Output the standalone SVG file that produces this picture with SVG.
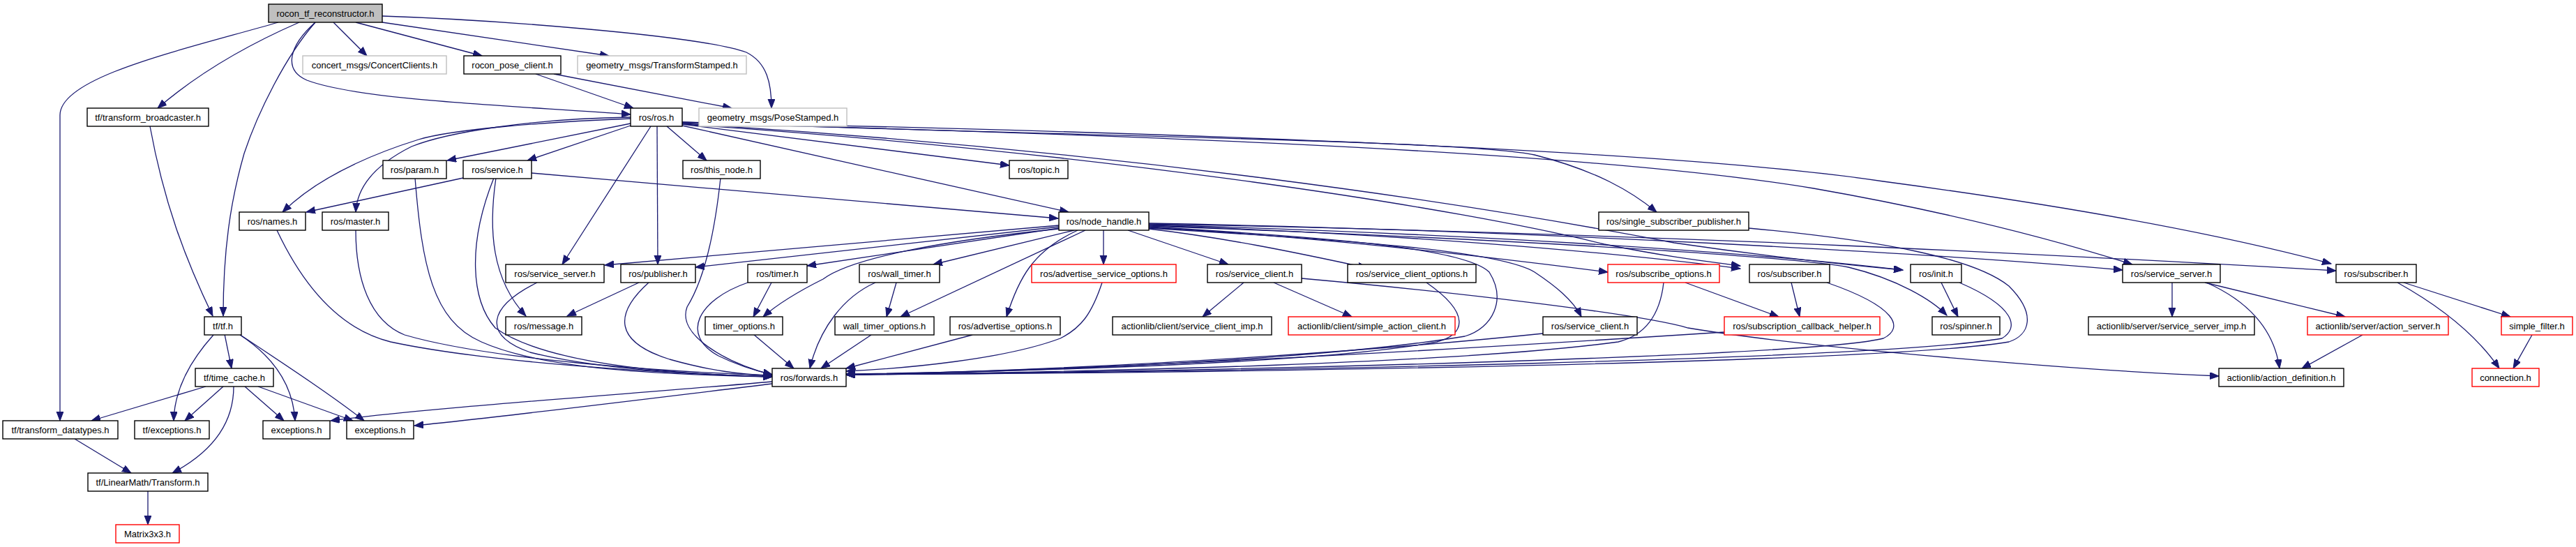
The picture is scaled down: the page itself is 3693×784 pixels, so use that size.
<svg xmlns="http://www.w3.org/2000/svg" width="3693" height="784" viewBox="0 0 3693 784">
<style>
.n rect{fill:#ffffff;stroke:#000000;stroke-width:1.4}
.n.g rect{stroke:#bfbfbf}
.n.r rect{stroke:#ff0000}
.n.m rect{fill:#bfbfbf}
.n text{font-family:"Liberation Sans",Arial,sans-serif;font-size:13px;text-anchor:middle;fill:#000000}
.e path{fill:none;stroke:#191970;stroke-width:1.3;marker-end:url(#a)}
</style>
<defs>
<marker id="a" markerUnits="userSpaceOnUse" markerWidth="14" markerHeight="11" refX="13" refY="5" orient="auto">
<path d="M0,0 L13,5 L0,10 z" fill="#191970" stroke="#191970" stroke-width="1"/>
</marker>
</defs>
<rect width="3693" height="784" fill="#ffffff"/>
<g id="edges" class="e">
<path d="M399,32 C260,72 86,110 86,165 L86,603"/>
<path d="M429,32 C360,62 290,100 226,155"/>
<path d="M452,32 C410,80 370,160 350,220 C330,290 320,360 320,453"/>
<path d="M452,32 C415,65 405,100 440,115 C520,145 750,152 904,164"/>
<path d="M478,32 L526,80"/>
<path d="M510,32 L691,80"/>
<path d="M548,32 L873,80"/>
<path d="M548,23 C700,28 1000,50 1070,75 C1100,90 1106,120 1106,155"/>
<path d="M768,106 L908,155"/>
<path d="M794,106 L1049,155"/>
<path d="M215,181 C235,290 265,370 305,453"/>
<path d="M904,177 L641,230"/>
<path d="M904,180 L756,230"/>
<path d="M904,170 C780,175 650,185 600,200 C520,225 450,260 405,304"/>
<path d="M904,168 C760,170 640,190 590,210 C540,235 512,265 510,304"/>
<path d="M933,181 L806,379"/>
<path d="M942,181 L943,379"/>
<path d="M956,181 L1013,230"/>
<path d="M978,178 L1447,237"/>
<path d="M978,180 L1532,304"/>
<path d="M978,175 C1500,195 2100,200 2200,222 C2290,245 2340,275 2375,304"/>
<path d="M978,177 C1600,215 2100,290 2400,348 C2550,370 2650,380 2728,387"/>
<path d="M978,178 C1600,220 2100,300 2300,350 C2400,370 2450,375 2495,381"/>
<path d="M978,176 C1700,195 2300,220 2600,270 C2800,305 2950,345 3057,379"/>
<path d="M978,175 C1700,190 2400,215 2700,260 C3000,300 3200,340 3342,378"/>
<path d="M664,255 L439,304"/>
<path d="M762,248 L1517,313"/>
<path d="M711,255 C700,330 705,400 754,453"/>
<path d="M708,255 C670,350 675,430 710,470 C780,520 950,536 1107,540"/>
<path d="M595,255 C605,380 620,460 690,490 C780,530 950,537 1107,540"/>
<path d="M770,405 C700,440 690,480 760,505 C860,530 1000,537 1107,540"/>
<path d="M930,405 C880,450 880,490 960,515 C1020,532 1060,536 1107,539"/>
<path d="M1033,255 C1025,330 1010,400 985,440 C970,480 1040,520 1107,537"/>
<path d="M1072,405 C1000,430 975,480 1030,510 C1060,525 1090,533 1107,537"/>
<path d="M397,330 C430,400 480,470 560,490 C700,520 950,535 1107,540"/>
<path d="M510,330 C510,400 530,460 580,480 C700,515 950,533 1107,538"/>
<path d="M916,405 L813,453"/>
<path d="M1106,405 L1080,454"/>
<path d="M1080,479 L1138,528"/>
<path d="M1255,405 C1210,425 1175,470 1161,528"/>
<path d="M1285,405 L1271,454"/>
<path d="M1249,480 L1177,528"/>
<path d="M1394,480 L1213,528"/>
<path d="M1580,405 C1565,450 1550,470 1520,485 C1440,515 1300,528 1213,532"/>
<path d="M1107,547 C900,565 620,584 474,603"/>
<path d="M1107,550 C900,575 700,600 594,610"/>
<path d="M322,479 L332,528"/>
<path d="M306,480 C270,520 250,560 249,603"/>
<path d="M344,480 C390,510 420,550 423,603"/>
<path d="M346,481 C420,530 480,570 522,603"/>
<path d="M295,554 L131,603"/>
<path d="M320,554 L265,603"/>
<path d="M335,554 C335,610 300,650 247,678"/>
<path d="M351,554 L407,603"/>
<path d="M370,554 L506,603"/>
<path d="M107,629 L188,678"/>
<path d="M212,703 L212,752"/>
<path d="M1518,323 L867,380"/>
<path d="M1518,325 L997,383"/>
<path d="M1518,327 L1157,381"/>
<path d="M1540,330 L1338,379"/>
<path d="M1556,330 L1291,454"/>
<path d="M1545,330 C1480,360 1460,400 1443,454"/>
<path d="M1582,330 L1582,379"/>
<path d="M1617,330 L1761,379"/>
<path d="M1518,328 C1350,345 1220,370 1180,400 C1140,420 1110,440 1094,454"/>
<path d="M1647,328 C1750,340 1850,360 1960,384"/>
<path d="M1647,326 C1900,340 2150,370 2305,390"/>
<path d="M1647,325 C1900,340 2100,355 2135,390 C2160,430 2140,470 2100,482 C1900,515 1500,533 1213,537"/>
<path d="M1647,327 C1950,345 2150,360 2200,390 C2230,410 2255,430 2267,454"/>
<path d="M1647,323 C2000,335 2300,360 2495,385"/>
<path d="M1647,322 C2100,335 2500,360 2728,387"/>
<path d="M1647,324 C2100,340 2550,365 2650,383 C2720,400 2770,430 2791,452"/>
<path d="M1647,320 C2200,330 2800,365 3043,387"/>
<path d="M1647,321 C2400,335 3000,368 3349,388"/>
<path d="M1783,405 L1724,454"/>
<path d="M1826,405 L1938,454"/>
<path d="M1866,399 C2100,420 2350,450 2420,470 C2600,500 3000,532 3181,539"/>
<path d="M2045,405 C2110,450 2100,480 2060,490 C1900,520 1500,532 1213,536"/>
<path d="M2212,478 C2000,500 1600,530 1213,537"/>
<path d="M2385,405 C2380,450 2360,480 2320,490 C2100,520 1600,533 1213,537"/>
<path d="M2416,405 L2550,454"/>
<path d="M2568,405 L2580,454"/>
<path d="M2619,405 C2720,440 2730,470 2700,485 C2600,510 1800,532 1213,537"/>
<path d="M2472,476 C2100,500 1600,530 1213,537"/>
<path d="M2783,405 L2807,454"/>
<path d="M2809,405 C2890,440 2895,470 2870,485 C2700,515 1800,533 1213,537"/>
<path d="M2507,327 C2700,345 2830,370 2880,410 C2920,450 2910,480 2880,490 C2700,520 1800,534 1213,537"/>
<path d="M3114,405 L3114,454"/>
<path d="M3161,405 L3362,454"/>
<path d="M3163,405 C3220,430 3260,470 3268,528"/>
<path d="M3387,480 L3300,528"/>
<path d="M3446,405 L3599,454"/>
<path d="M3437,405 C3500,440 3550,480 3583,528"/>
<path d="M3630,480 L3603,528"/>
</g>
<g id="n_main" class="n m"><rect x="385" y="6" width="163" height="26"/><text x="466.5" y="23.5">rocon_tf_reconstructor.h</text></g>
<g id="n_concert" class="n g"><rect x="434" y="80" width="206" height="26"/><text x="537" y="97.5">concert_msgs/ConcertClients.h</text></g>
<g id="n_posecl" class="n"><rect x="665" y="80" width="139" height="26"/><text x="734.5" y="97.5">rocon_pose_client.h</text></g>
<g id="n_tfst" class="n g"><rect x="828" y="80" width="242" height="26"/><text x="949" y="97.5">geometry_msgs/TransformStamped.h</text></g>
<g id="n_tfbc" class="n"><rect x="125" y="155" width="174" height="26"/><text x="212" y="172.5">tf/transform_broadcaster.h</text></g>
<g id="n_ros" class="n"><rect x="904" y="155" width="74" height="26"/><text x="941" y="172.5">ros/ros.h</text></g>
<g id="n_pose" class="n g"><rect x="1002" y="155" width="212" height="26"/><text x="1108" y="172.5">geometry_msgs/PoseStamped.h</text></g>
<g id="n_param" class="n"><rect x="549" y="230" width="91" height="26"/><text x="594.5" y="247.5">ros/param.h</text></g>
<g id="n_service" class="n"><rect x="664" y="230" width="98" height="26"/><text x="713" y="247.5">ros/service.h</text></g>
<g id="n_thisnode" class="n"><rect x="979" y="230" width="111" height="26"/><text x="1034.5" y="247.5">ros/this_node.h</text></g>
<g id="n_topic" class="n"><rect x="1447" y="230" width="84" height="26"/><text x="1489" y="247.5">ros/topic.h</text></g>
<g id="n_names" class="n"><rect x="343" y="304" width="95" height="26"/><text x="390.5" y="321.5">ros/names.h</text></g>
<g id="n_master" class="n"><rect x="462" y="304" width="95" height="26"/><text x="509.5" y="321.5">ros/master.h</text></g>
<g id="n_nh" class="n"><rect x="1518" y="304" width="129" height="26"/><text x="1582.5" y="321.5">ros/node_handle.h</text></g>
<g id="n_ssp" class="n"><rect x="2292" y="304" width="215" height="26"/><text x="2399.5" y="321.5">ros/single_subscriber_publisher.h</text></g>
<g id="n_ssrvL" class="n"><rect x="725" y="379" width="141" height="26"/><text x="795.5" y="396.5">ros/service_server.h</text></g>
<g id="n_pub" class="n"><rect x="890" y="379" width="107" height="26"/><text x="943.5" y="396.5">ros/publisher.h</text></g>
<g id="n_timer" class="n"><rect x="1072" y="379" width="85" height="26"/><text x="1114.5" y="396.5">ros/timer.h</text></g>
<g id="n_wtimer" class="n"><rect x="1232" y="379" width="115" height="26"/><text x="1289.5" y="396.5">ros/wall_timer.h</text></g>
<g id="n_aso" class="n r"><rect x="1479" y="379" width="207" height="26"/><text x="1582.5" y="396.5">ros/advertise_service_options.h</text></g>
<g id="n_sclA" class="n"><rect x="1731" y="379" width="135" height="26"/><text x="1798.5" y="396.5">ros/service_client.h</text></g>
<g id="n_sco" class="n"><rect x="1932" y="379" width="184" height="26"/><text x="2024" y="396.5">ros/service_client_options.h</text></g>
<g id="n_subo" class="n r"><rect x="2305" y="379" width="160" height="26"/><text x="2385" y="396.5">ros/subscribe_options.h</text></g>
<g id="n_subM" class="n"><rect x="2508" y="379" width="115" height="26"/><text x="2565.5" y="396.5">ros/subscriber.h</text></g>
<g id="n_init" class="n"><rect x="2739" y="379" width="73" height="26"/><text x="2775.5" y="396.5">ros/init.h</text></g>
<g id="n_ssrvR" class="n"><rect x="3043" y="379" width="140" height="26"/><text x="3113" y="396.5">ros/service_server.h</text></g>
<g id="n_subR" class="n"><rect x="3349" y="379" width="115" height="26"/><text x="3406.5" y="396.5">ros/subscriber.h</text></g>
<g id="n_tf" class="n"><rect x="293" y="454" width="53" height="26"/><text x="319.5" y="471.5">tf/tf.h</text></g>
<g id="n_msg" class="n"><rect x="725" y="454" width="109" height="26"/><text x="779.5" y="471.5">ros/message.h</text></g>
<g id="n_topt" class="n"><rect x="1011" y="454" width="111" height="26"/><text x="1066.5" y="471.5">timer_options.h</text></g>
<g id="n_wtopt" class="n"><rect x="1197" y="454" width="142" height="26"/><text x="1268" y="471.5">wall_timer_options.h</text></g>
<g id="n_advo" class="n"><rect x="1362" y="454" width="158" height="26"/><text x="1441" y="471.5">ros/advertise_options.h</text></g>
<g id="n_scimp" class="n"><rect x="1595" y="454" width="228" height="26"/><text x="1709" y="471.5">actionlib/client/service_client_imp.h</text></g>
<g id="n_sac" class="n r"><rect x="1847" y="454" width="239" height="26"/><text x="1966.5" y="471.5">actionlib/client/simple_action_client.h</text></g>
<g id="n_sclB" class="n"><rect x="2212" y="454" width="135" height="26"/><text x="2279.5" y="471.5">ros/service_client.h</text></g>
<g id="n_sch" class="n r"><rect x="2472" y="454" width="223" height="26"/><text x="2583.5" y="471.5">ros/subscription_callback_helper.h</text></g>
<g id="n_spin" class="n"><rect x="2770" y="454" width="97" height="26"/><text x="2818.5" y="471.5">ros/spinner.h</text></g>
<g id="n_ssimp" class="n"><rect x="2994" y="454" width="238" height="26"/><text x="3113" y="471.5">actionlib/server/service_server_imp.h</text></g>
<g id="n_as" class="n r"><rect x="3308" y="454" width="202" height="26"/><text x="3409" y="471.5">actionlib/server/action_server.h</text></g>
<g id="n_sf" class="n r"><rect x="3586" y="454" width="102" height="26"/><text x="3637" y="471.5">simple_filter.h</text></g>
<g id="n_tc" class="n"><rect x="280" y="528" width="112" height="26"/><text x="336" y="545.5">tf/time_cache.h</text></g>
<g id="n_fwd" class="n"><rect x="1107" y="528" width="106" height="26"/><text x="1160" y="545.5">ros/forwards.h</text></g>
<g id="n_ad" class="n"><rect x="3181" y="528" width="179" height="26"/><text x="3270.5" y="545.5">actionlib/action_definition.h</text></g>
<g id="n_conn" class="n r"><rect x="3544" y="528" width="96" height="26"/><text x="3592" y="545.5">connection.h</text></g>
<g id="n_tdt" class="n"><rect x="4" y="603" width="165" height="26"/><text x="86.5" y="620.5">tf/transform_datatypes.h</text></g>
<g id="n_tfex" class="n"><rect x="193" y="603" width="107" height="26"/><text x="246.5" y="620.5">tf/exceptions.h</text></g>
<g id="n_ex1" class="n"><rect x="377" y="603" width="96" height="26"/><text x="425" y="620.5">exceptions.h</text></g>
<g id="n_ex2" class="n"><rect x="497" y="603" width="96" height="26"/><text x="545" y="620.5">exceptions.h</text></g>
<g id="n_tr" class="n"><rect x="126" y="678" width="172" height="26"/><text x="212" y="695.5">tf/LinearMath/Transform.h</text></g>
<g id="n_m33" class="n r"><rect x="166" y="752" width="91" height="26"/><text x="211.5" y="769.5">Matrix3x3.h</text></g>
</svg>
